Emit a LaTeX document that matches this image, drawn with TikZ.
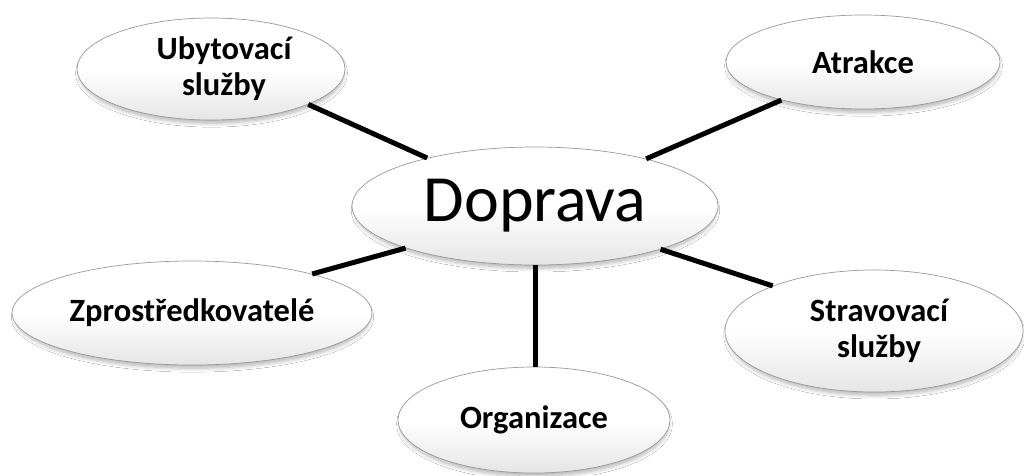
\documentclass[tikz,border=0pt]{standalone}
\usepackage{fontspec}
\setmainfont{Carlito}
\usetikzlibrary{shapes.geometric,shadows.blur}
\begin{document}
\begin{tikzpicture}[x=1pt,y=-1pt,
  bubble/.style={ellipse, draw=black!40, line width=0.7pt, top color=white, bottom color=black!10, middle color=white,
    inner sep=0pt, align=center,
    blur shadow={shadow xshift=0.5pt, shadow yshift=-4pt, shadow scale=0.985, shadow blur radius=4pt, shadow blur steps=8, shadow opacity=30}},
  lbl/.style={font=\bfseries\fontsize{32.5}{36}\selectfont},
  link/.style={line width=5pt, draw=black}]
\useasboundingbox (0,0) rectangle (1024,475);
\fill[white] (0,0) rectangle (1024,475);
\node[bubble, lbl, minimum width=268pt, minimum height=102pt] (ub) at (211,69) {\hspace*{26pt}Ubytovací\\\hspace*{26pt}služby};
\node[bubble, lbl, minimum width=274pt, minimum height=94pt] (at) at (863,62) {Atrakce};
\node[bubble, minimum width=366pt, minimum height=118pt, font=\fontsize{66}{72}\selectfont] (dop) at (535,206) {Doprava};
\node[bubble, lbl, minimum width=360pt, minimum height=104pt] (zp) at (192,313) {Zprostředkovatelé};
\node[bubble, lbl, minimum width=298pt, minimum height=122pt] (st) at (874,331) {\hspace*{10pt}Stravovací\\\hspace*{10pt}služby};
\node[bubble, lbl, minimum width=272pt, minimum height=106pt] (org) at (534,420) {Organizace};
\draw[link] (ub.-20) -- (dop.156);
\draw[link] (at.-155) -- (dop.23);
\draw[link] (zp.18) -- (dop.-162);
\draw[link] (st.156) -- (dop.-19);
\draw[link] (dop.south) -- (dop.south |- org.north);
\end{tikzpicture}
\end{document}
